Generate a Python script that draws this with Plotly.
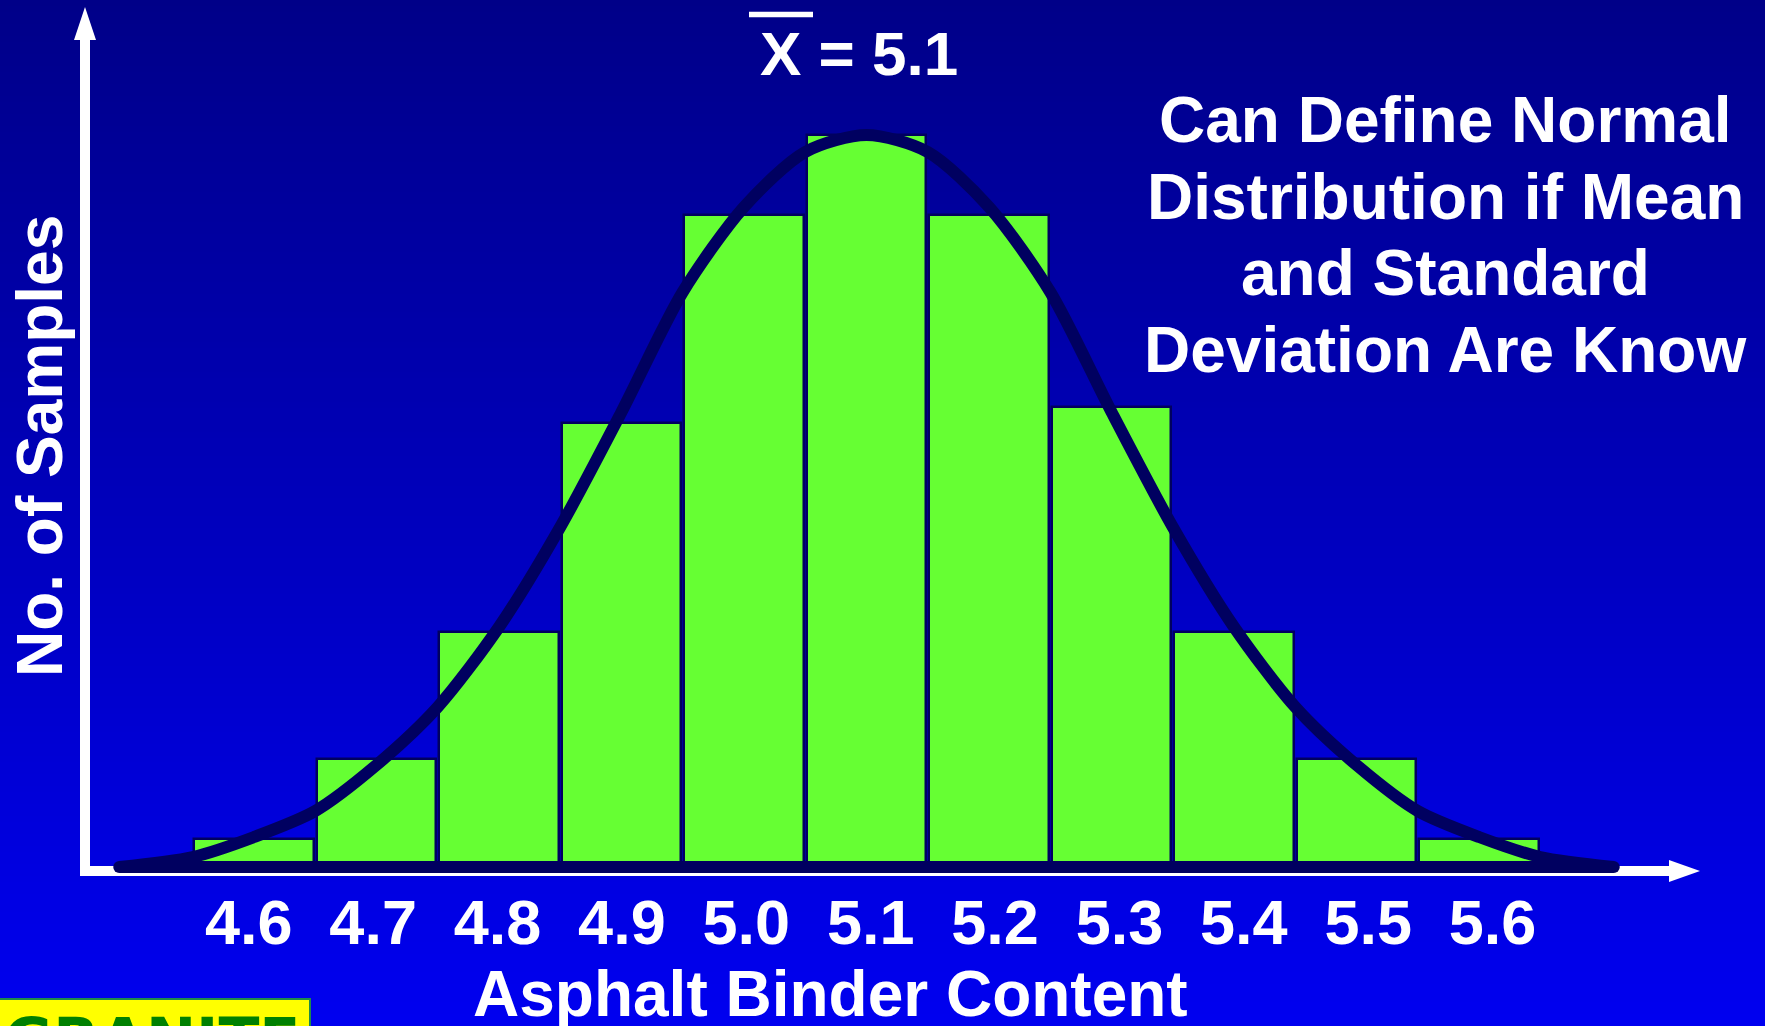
import plotly.graph_objects as go

# Canvas size in pixels
W, H = 1765, 1026

# Histogram of asphalt binder content
CATEGORIES = ["4.6", "4.7", "4.8", "4.9", "5.0", "5.1", "5.2", "5.3", "5.4", "5.5", "5.6"]
SAMPLE_COUNTS = [2.8, 10.8, 23.5, 44.4, 65.2, 73.2, 65.2, 46.0, 23.5, 10.8, 2.8]

# Fitted normal curve, sampled along the binder-content axis
CURVE_X = [4.49, 4.55, 4.60, 4.65, 4.70, 4.75, 4.80, 4.85, 4.90, 4.95, 5.00, 5.05, 5.10,
           5.15, 5.20, 5.25, 5.30, 5.35, 5.40, 5.45, 5.50, 5.55, 5.60, 5.65, 5.71]
CURVE_Y = [0.0, 1.0, 3.0, 5.6, 10.2, 16.0, 24.0, 34.0, 45.5, 57.5, 66.0, 71.5, 73.2,
           71.5, 66.0, 57.5, 45.5, 34.0, 24.0, 16.0, 10.2, 5.6, 3.0, 1.0, 0.0]

MEAN_TEXT = "X = 5.1"
NOTE_LINES = ["Can Define Normal", "Distribution if Mean", "and Standard", "Deviation Are Know"]
X_TITLE = "Asphalt Binder Content"
Y_TITLE = "No. of Samples"
LOGO_TEXT = "GRANITE"

FONT = "Liberation Sans, Arial, Helvetica, sans-serif"
GREEN = "#66FF33"
NAVY = "#000060"
WHITE = "#FFFFFF"


def px(x):
    return x / W


def py(y):
    return 1 - y / H


xs = [float(c) for c in CATEGORIES]

fig = go.Figure()

fig.add_trace(go.Bar(
    x=xs, y=SAMPLE_COUNTS, width=0.0975,
    marker=dict(color=GREEN, line=dict(color=NAVY, width=2.5)),
    hoverinfo="skip", showlegend=False,
))

fig.add_trace(go.Scatter(
    x=CURVE_X, y=CURVE_Y, mode="lines",
    line=dict(color=NAVY, width=12, shape="spline", smoothing=0.8),
    hoverinfo="skip", showlegend=False,
))

# base of the curve, closing it along the axis
fig.add_trace(go.Scatter(
    x=[CURVE_X[0], CURVE_X[-1]], y=[0, 0], mode="lines+markers",
    line=dict(color=NAVY, width=12),
    marker=dict(color=NAVY, size=12, symbol="circle"),
    hoverinfo="skip", showlegend=False,
))

# invisible carrier for the category labels on the lower axis
fig.add_trace(go.Scatter(
    x=xs, y=[0] * len(xs), xaxis="x2", yaxis="y", mode="markers",
    marker=dict(opacity=0), hoverinfo="skip", showlegend=False,
))

shapes = []

# vertical background gradient, dark navy at the top to bright blue at the bottom
top_rgb = (0, 0, 136)
bot_rgb = (0, 0, 240)
bands = 171
for i in range(bands):
    t = (i + 0.5) / bands
    col = "rgb({},{},{})".format(*[round(a + (b - a) * t) for a, b in zip(top_rgb, bot_rgb)])
    y0 = i * H / bands
    y1 = (i + 1) * H / bands + 1
    shapes.append(dict(type="rect", xref="paper", yref="paper",
                       x0=0, x1=1, y0=py(y1), y1=py(y0),
                       fillcolor=col, line=dict(width=0), layer="below"))

# white arrowed axes
shapes.append(dict(type="rect", xref="paper", yref="paper",
                   x0=px(80), x1=px(90), y0=py(876), y1=py(38),
                   fillcolor=WHITE, line=dict(width=0), layer="below"))
shapes.append(dict(type="path", xref="paper", yref="paper",
                   path=f"M {px(85)} {py(7)} L {px(96)} {py(40)} L {px(74)} {py(40)} Z",
                   fillcolor=WHITE, line=dict(width=0), layer="below"))
shapes.append(dict(type="rect", xref="paper", yref="paper",
                   x0=px(80), x1=px(1670), y0=py(876), y1=py(866),
                   fillcolor=WHITE, line=dict(width=0), layer="below"))
shapes.append(dict(type="path", xref="paper", yref="paper",
                   path=f"M {px(1700)} {py(871)} L {px(1669)} {py(882)} L {px(1669)} {py(860)} Z",
                   fillcolor=WHITE, line=dict(width=0), layer="below"))

# bar over the X of the mean label
shapes.append(dict(type="line", xref="paper", yref="paper",
                   x0=px(749), x1=px(813), y0=py(14.5), y1=py(14.5),
                   line=dict(color=WHITE, width=5.5), layer="above"))

# logo box in the lower-left corner
shapes.append(dict(type="rect", xref="paper", yref="paper",
                   x0=px(-5), x1=px(310), y0=py(1035), y1=py(999),
                   fillcolor="#FFFF00", line=dict(color="#1E8A4A", width=2), layer="above"))

annotations = []


def text(x, y, s, size, color=WHITE, xanchor="center", angle=0, family=FONT):
    annotations.append(dict(
        x=px(x), y=py(y), xref="paper", yref="paper", text=s, showarrow=False,
        xanchor=xanchor, yanchor="middle", textangle=angle,
        font=dict(family=family, size=size, color=color, weight="bold"),
    ))


text(758, 54, MEAN_TEXT, 62, xanchor="left")
for i, line in enumerate(NOTE_LINES):
    text(1445, 120 + i * 76.5, line, 64)
text(830, 994, X_TITLE, 64)
text(40, 446, Y_TITLE, 64, angle=-90)
text(152, 1040, LOGO_TEXT, 60, color="#008000", family="DejaVu Sans, Verdana, sans-serif")

fig.update_layout(
    width=W, height=H,
    margin=dict(l=0, r=0, t=0, b=0, pad=0),
    paper_bgcolor="#0000B0", plot_bgcolor="rgba(0,0,0,0)",
    shapes=shapes, annotations=annotations,
    bargap=0, showlegend=False,
    xaxis=dict(
        range=[5.1 - 866.5 / 1225, 5.1 + 898.5 / 1225],
        domain=[0, 1], anchor="y",
        showticklabels=False, ticks="",
        showgrid=False, zeroline=False, showline=False, fixedrange=True,
    ),
    # label axis: category labels are spaced a little wider than the bars
    xaxis2=dict(
        range=[4.40, 5.819], overlaying="x", domain=[0, 1],
        anchor="free", position=py(880), side="bottom",
        tickmode="array", tickvals=xs, ticktext=CATEGORIES,
        tickfont=dict(family=FONT, size=63, color=WHITE, weight="bold"),
        ticks="", showgrid=False, zeroline=False, showline=False, fixedrange=True,
    ),
    yaxis=dict(
        range=[-15.9, 86.7], domain=[0, 1],
        visible=False, showgrid=False, zeroline=False, fixedrange=True,
    ),
)

fig.write_html("out.html", config={"displayModeBar": False})
